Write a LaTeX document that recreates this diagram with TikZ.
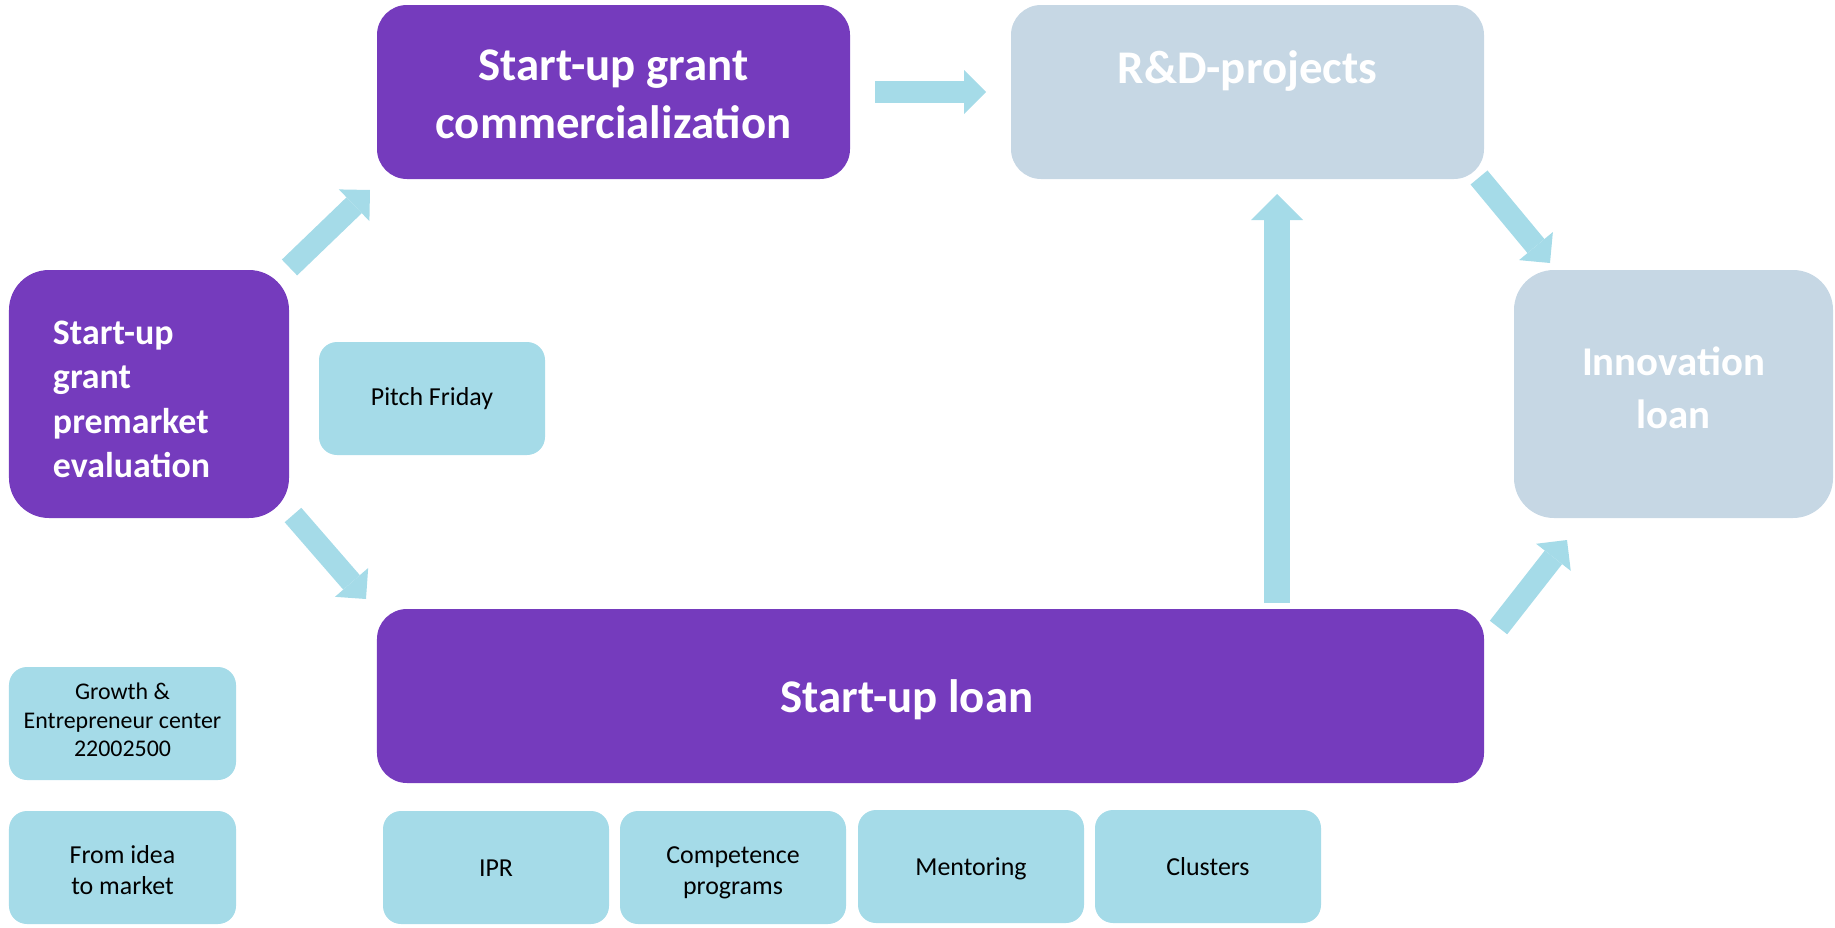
\documentclass[tikz,border=0pt]{standalone}
\usepackage{fontspec}
\setmainfont{Carlito}
\usetikzlibrary{arrows.meta,calc}
\definecolor{grape}{HTML}{753BBD}
\definecolor{mist}{HTML}{C6D7E4}
\definecolor{sky}{HTML}{A5DBE8}

\begin{document}
\begin{tikzpicture}[x=1bp,y=-1bp]
\tikzstyle{every node}=[rectangle, inner sep=0pt, outer sep=0pt]
\tikzstyle{bigbox}=[fill=grape, text=white, align=center, font=\bfseries\fontsize{47}{58}\selectfont, minimum width=473bp, minimum height=174bp, rounded corners=30bp]
\tikzstyle{palebox}=[bigbox, fill=mist]
\tikzstyle{smallbox}=[fill=sky, text=black, align=center, font=\fontsize{26}{31}\selectfont, minimum width=226bp, minimum height=113bp, rounded corners=18bp]
\tikzstyle{flow}=[draw=sky, line width=22bp, -{Triangle[length=22bp,width=44bp,line width=0pt]}]
\tikzstyle{bigflow}=[flow, line width=26bp, -{Triangle[length=26bp,width=52bp,line width=0pt]}]
\useasboundingbox (0,0) rectangle (1835,927);
\draw (613.5,92) node (comm) [bigbox, text height=92bp, text depth=0bp] {Start-up grant\\commercialization};
\draw (1247.5,92) node (rd) [palebox, text height=30bp, text depth=48bp] {R\&D-projects};
\draw (149,394) node (pre) [bigbox, minimum width=280bp, minimum height=248bp, rounded corners=40bp, text width=192bp, align=left, text height=30bp, text depth=130bp, font=\bfseries\fontsize{36}{44.7}\selectfont] {Start-up\\grant\\premarket\\evaluation};
\draw (1673.5,394) node (inno) [palebox, minimum width=319bp, minimum height=248bp, rounded corners=40bp, text height=68bp, text depth=0bp, font=\bfseries\fontsize{41}{52.5}\selectfont] {Innovation\\loan};
\draw (930.5,696) node (loan) [bigbox, minimum width=1107bp, text width=300bp, align=flush left, text height=40bp, text depth=8bp] {Start-up loan};
\draw (432,398.5) node (pitch) [smallbox] {Pitch Friday};
\draw (122.5,723.5) node (growth) [smallbox, minimum width=227bp, text height=66bp, text depth=0bp, font=\fontsize{24}{28.5}\selectfont] {Growth \&\\Entrepreneur center\\22002500};
\draw (122.5,867.5) node (idea) [smallbox, minimum width=227bp, text height=54bp, text depth=0bp] {From idea\\to market};
\draw (496,867.5) node (ipr) [smallbox, text height=18bp, text depth=0bp] {IPR};
\draw (733,867.5) node (comp) [smallbox, text height=54bp, text depth=0bp] {Competence\\programs};
\draw (971,866.5) node (ment) [smallbox, text height=18bp, text depth=0bp] {Mentoring};
\draw (1208,866.5) node (clus) [smallbox, text height=18bp, text depth=0bp] {Clusters};
\draw[flow, shorten <=25bp, shorten >=25bp] (comm) -- (rd);
\draw[bigflow] ($(rd.south |- loan.north)+(29.5,-6)$) -- ($(rd.south)+(29.5,15)$);
\draw[flow] ($(rd.south east)+(-5,-1.5)$) -- ($(inno.north west)+(36,-7)$);
\draw[flow] ($(loan.north east)+(14.5,18.5)$) -- ($(inno.south west)+(53,22)$);
\draw[flow] ($(pre.north east)+(0.5,-2.5)$) -- ($(comm.south west)+(-7,11)$);
\draw[flow] ($(pre.south east)+(4,-3)$) -- ($(loan.north west)+(-11,-10)$);
\end{tikzpicture}
\end{document}
